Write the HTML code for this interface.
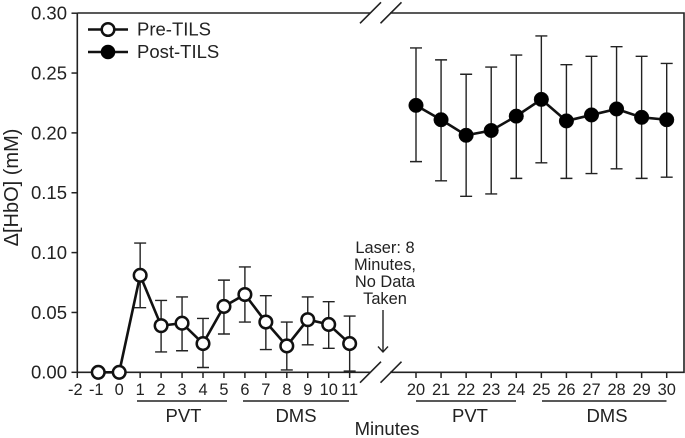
<!DOCTYPE html>
<html>
<head>
<meta charset="utf-8">
<style>
html,body{margin:0;padding:0;background:#fff;}
svg{display:block;font-family:"Liberation Sans",sans-serif;}
text{fill:#222;}
</style>
</head>
<body>
<svg id="chart" width="685" height="438" viewBox="0 0 685 438" xmlns="http://www.w3.org/2000/svg">
  <g id="axes" stroke="#222" stroke-width="1.6" fill="none">
    <path d="M77.3 13V372.3H370"/>
    <path d="M390 372.3H684V13H390"/>
    <path d="M77.3 13H370"/>
    <path d="M360 382.7L381 361.7M380.5 382.7L401.5 361.7"/>
    <path d="M360 23.3L381 2.3M380.5 23.3L401.5 2.3"/>
  </g>
  <g id="ticks"></g>
  <g id="series"></g>

  <text transform="translate(18 187.5) rotate(-90)" text-anchor="middle" font-size="20">Δ[HbO] (mM)</text>
  <text x="387" y="435" text-anchor="middle" font-size="18.5">Minutes</text>

  <g stroke="#222" stroke-width="1.5">
    <line x1="137" y1="401" x2="227" y2="401"/>
    <line x1="243" y1="401" x2="349" y2="401"/>
    <line x1="416" y1="401" x2="516" y2="401"/>
    <line x1="542" y1="401" x2="666.5" y2="401"/>
  </g>
  <g font-size="18.5" text-anchor="middle">
    <text x="183.5" y="422">PVT</text>
    <text x="296" y="422">DMS</text>
    <text x="470" y="422">PVT</text>
    <text x="607" y="422">DMS</text>
  </g>

  <g font-size="16.4" text-anchor="middle">
    <text x="385" y="253">Laser: 8</text>
    <text x="385" y="270">Minutes,</text>
    <text x="385" y="287">No Data</text>
    <text x="385" y="304">Taken</text>
  </g>
  <path d="M383 310V351.5M378 346.5L383 352L388 346.5" fill="none" stroke="#222" stroke-width="1.4"/>

  <g>
    <g>
      <line x1="88" y1="29.5" x2="128" y2="29.5" stroke="#111" stroke-width="2.4"/>
      <circle cx="108" cy="29.5" r="6.3" fill="#fff" stroke="#111" stroke-width="2.5"/>
      <text x="137" y="35.5" font-size="18.5">Pre-TILS</text>
    </g>
    <g>
      <line x1="88" y1="52" x2="128" y2="52" stroke="#111" stroke-width="2.4"/>
      <circle cx="108" cy="52" r="7.3" fill="#000"/>
      <text x="137" y="58" font-size="18.5">Post-TILS</text>
    </g>
  </g>
</svg>
<script>
const yTicks = [0, 0.05, 0.10, 0.15, 0.20, 0.25, 0.30];
const xTicksPre = [-2, -1, 0, 1, 2, 3, 4, 5, 6, 7, 8, 9, 10, 11];
const xTicksPost = [20, 21, 22, 23, 24, 25, 26, 27, 28, 29, 30];

const preMinutes = [-1, 0, 1, 2, 3, 4, 5, 6, 7, 8, 9, 10, 11];
const preValues = [0, 0, 0.081, 0.039, 0.041, 0.024, 0.055, 0.065, 0.042, 0.022, 0.044, 0.040, 0.024];
const preUpper = [0, 0, 0.108, 0.060, 0.063, 0.045, 0.077, 0.088, 0.064, 0.042, 0.063, 0.059, 0.047];
const preLower = [0, 0, 0.054, 0.017, 0.018, 0.004, 0.032, 0.042, 0.019, 0.002, 0.023, 0.020, 0.001];

const postMinutes = [20, 21, 22, 23, 24, 25, 26, 27, 28, 29, 30];
const postValues = [0.223, 0.211, 0.198, 0.202, 0.214, 0.228, 0.210, 0.215, 0.220, 0.213, 0.211];
const postUpper = [0.271, 0.261, 0.249, 0.255, 0.265, 0.281, 0.257, 0.264, 0.272, 0.264, 0.258];
const postLower = [0.176, 0.160, 0.147, 0.149, 0.162, 0.175, 0.162, 0.166, 0.170, 0.162, 0.163];

const NS = 'http://www.w3.org/2000/svg';
function xScale(m) {
  return m <= 11 ? 119.2 + 20.95 * m : 416 + 25.07 * (m - 20);
}
function yScale(v) {
  return 372.3 - 1197 * v;
}
function make(tag, attrs, parent) {
  const el = document.createElementNS(NS, tag);
  for (const k in attrs) el.setAttribute(k, attrs[k]);
  parent.appendChild(el);
  return el;
}

const ticksG = document.getElementById('ticks');
yTicks.forEach(function (v) {
  const tick = make('line', {x1: 71.5, x2: 77.3, y1: yScale(v), y2: yScale(v), stroke: '#222', 'stroke-width': 1.5}, ticksG);
  
  
  const label = make('text', {x: 67, y: yScale(v) + 6.4, 'text-anchor': 'end', 'font-size': 18.5}, ticksG);
  
  
  label.textContent = v.toFixed(2);
});
xTicksPre.concat(xTicksPost).forEach(function (m) {
  const tick = make('line', {x1: xScale(m), x2: xScale(m), y1: 372.3, y2: 378, stroke: '#222', 'stroke-width': 1.5}, ticksG);
  
  
  const label = make('text', {x: xScale(m) - (m < 0 ? 2 : 0), y: 395, 'text-anchor': 'middle', 'font-size': 16.4}, ticksG);
  
  
  label.textContent = String(m);
});

const seriesG = document.getElementById('series');
function drawSeries(name, minutes, values, upper, lower, fill, radius, strokeWidth) {
  const g = make('g', {}, seriesG);
  
  
  minutes.forEach(function (m, i) {
    if (upper[i] === lower[i]) return;
    const x = xScale(m);
    const yu = yScale(upper[i]);
    const yl = yScale(lower[i]);
    const bar = make('path', {
      d: 'M' + (x - 6) + ' ' + yu + 'H' + (x + 6) + 'M' + x + ' ' + yu + 'V' + yl + 'M' + (x - 6) + ' ' + yl + 'H' + (x + 6),
      fill: 'none', stroke: '#222', 'stroke-width': 1.4
    }, g);
    
    
  });
  const pts = minutes.map(function (m, i) { return xScale(m) + ',' + yScale(values[i]); }).join(' ');
  const line = make('polyline', {points: pts, fill: 'none', stroke: '#111', 'stroke-width': 2.6}, g);
  
  
  minutes.forEach(function (m, i) {
    const dot = make('circle', {cx: xScale(m), cy: yScale(values[i]), r: radius, fill: fill, stroke: '#111', 'stroke-width': strokeWidth}, g);
    
    
  });
}
drawSeries('pre-tils-series', preMinutes, preValues, preUpper, preLower, '#fff', 6.3, 2.5);
drawSeries('post-tils-series', postMinutes, postValues, postUpper, postLower, '#000', 7.3, 0.5);
</script>
</body>
</html>
